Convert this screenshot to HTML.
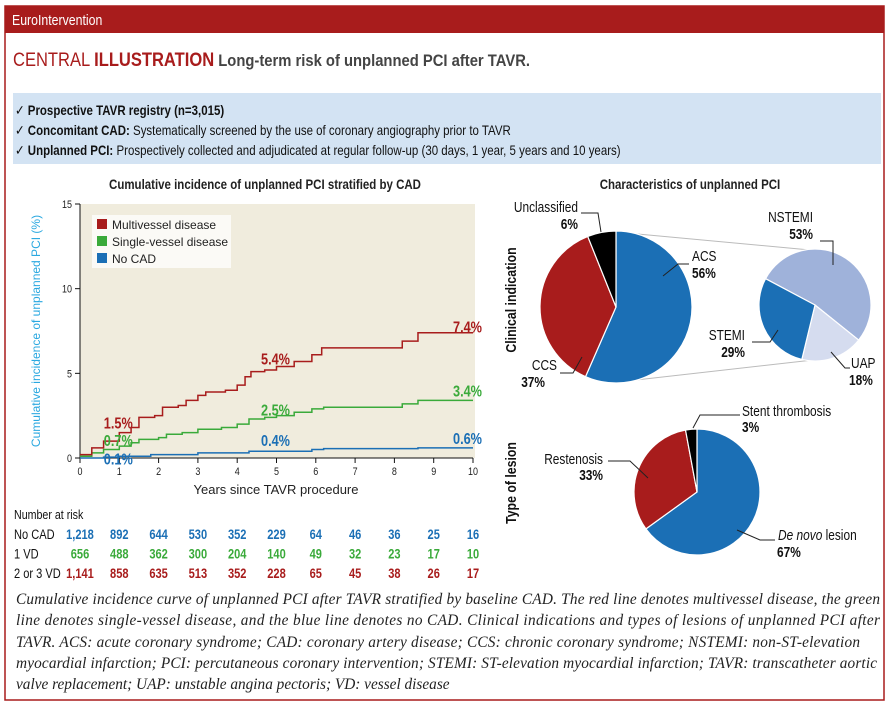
<!DOCTYPE html>
<html><head><meta charset="utf-8"><style>
body{margin:0;background:#fff;width:894px;height:708px;overflow:hidden;font-family:"Liberation Sans",sans-serif}
</style></head><body>
<svg id="root" width="894" height="708" xmlns="http://www.w3.org/2000/svg" style="font-family:'Liberation Sans',sans-serif">
<rect x="5" y="6" width="879" height="694" fill="#fff" stroke="#a81c1c" stroke-width="1.5"/>
<rect x="5" y="6" width="879" height="27" fill="#a81c1c"/>
<text class="cx" x="12" y="25" fill="#fff" font-size="15">EuroIntervention</text>
<text class="cx9" x="13" y="66" font-size="19"><tspan fill="#a81c1c">CENTRAL </tspan><tspan fill="#a81c1c" font-weight="bold">ILLUSTRATION</tspan><tspan fill="#444" font-weight="bold" font-size="17"> Long-term risk of unplanned PCI after TAVR.</tspan></text>
<rect x="13" y="93" width="868" height="71" fill="#d3e3f3"/>
<g font-size="14" fill="#111">
<text class="cx" x="15" y="115">✓ <tspan font-weight="bold">Prospective TAVR registry (n=3,015)</tspan></text>
<text class="cx" x="15" y="135">✓ <tspan font-weight="bold">Concomitant CAD:</tspan> Systematically screened by the use of coronary angiography prior to TAVR</text>
<text class="cx" x="15" y="155">✓ <tspan font-weight="bold">Unplanned PCI:</tspan> Prospectively collected and adjudicated at regular follow-up (30 days, 1 year, 5 years and 10 years)</text>
</g>
<text class="cx" x="265" y="189" text-anchor="middle" font-size="14" font-weight="bold" fill="#222">Cumulative incidence of unplanned PCI stratified by CAD</text>
<text class="cx" x="690" y="189" text-anchor="middle" font-size="14" font-weight="bold" fill="#222">Characteristics of unplanned PCI</text>
<g id="km"></g>
<g id="pies"></g>
<g font-size="15.3" font-style="italic" fill="#222" style="font-family:'Liberation Serif',serif">
<text x="16" y="604" textLength="864" lengthAdjust="spacing">Cumulative incidence curve of unplanned PCI after TAVR stratified by baseline CAD. The red line denotes multivessel disease, the green</text>
<text x="16" y="625" textLength="864" lengthAdjust="spacing">line denotes single-vessel disease, and the blue line denotes no CAD. Clinical indications and types of lesions of unplanned PCI after</text>
<text x="16" y="647" textLength="844" lengthAdjust="spacing">TAVR. ACS: acute coronary syndrome; CAD: coronary artery disease; CCS: chronic coronary syndrome; NSTEMI: non-ST-elevation</text>
<text x="16" y="668" textLength="861" lengthAdjust="spacing">myocardial infarction; PCI: percutaneous coronary intervention; STEMI: ST-elevation myocardial infarction; TAVR: transcatheter aortic</text>
<text x="16" y="689">valve replacement; UAP: unstable angina pectoris; VD: vessel disease</text>
</g>
</svg>
<script>
const NS="http://www.w3.org/2000/svg";
const yTicks=[0,5,10,15];
const xTicks=[0,1,2,3,4,5,6,7,8,9,10];
const mvX=[0,0.3,0.6,1.0,1.3,1.5,1.9,2.1,2.5,2.7,3.0,3.2,3.7,4.0,4.2,4.35,4.7,5.0,5.45,5.9,6.15,8.2,8.6,10];
const mvY=[0.2,0.6,1.0,1.5,1.8,2.4,2.5,3.0,3.1,3.4,3.7,3.9,4.0,4.3,4.8,5.1,5.2,5.4,5.7,6.1,6.5,6.9,7.4,7.4];
const svX=[0,0.3,0.6,1.0,1.3,1.5,2.0,2.2,2.6,3.0,3.6,4.0,4.3,4.7,5.0,5.45,5.9,6.2,8.2,8.6,10];
const svY=[0.1,0.3,0.5,0.7,0.9,1.1,1.2,1.4,1.5,1.7,1.8,2.0,2.3,2.4,2.5,2.7,2.9,3.0,3.2,3.4,3.4];
const ncX=[0,0.6,1.0,1.8,3.0,4.3,5.9,6.2,8.6,10];
const ncY=[0,0.05,0.1,0.2,0.3,0.4,0.5,0.55,0.6,0.6];
const annYears=[1,1,1,5,5,5,10,10,10];
const annValues=[1.5,0.7,0.1,5.4,2.5,0.4,7.4,3.4,0.6];
const riskLabels=["No CAD","1 VD","2 or 3 VD"];
const riskNoCad=["1,218","892","644","530","352","229","64","46","36","25","16"];
const risk1VD=["656","488","362","300","204","140","49","32","23","17","10"];
const risk23VD=["1,141","858","635","513","352","228","65","45","38","26","17"];
const pie1Labels=["ACS","CCS","Unclassified"];
const pie1Values=[56,37,6];
const pie2Labels=["NSTEMI","UAP","STEMI"];
const pie2Values=[53,18,29];
const pie3Labels=["De novo lesion","Restenosis","Stent thrombosis"];
const pie3Values=[67,33,3];

const X0=80,X1=473,Y0=458,Y1=204;
const sx=v=>X0+(X1-X0)*v/10, sy=v=>Y0-(Y0-Y1)*v/15;
function el(t,a,p){const e=document.createElementNS(NS,t);for(const k in a)e.setAttribute(k,a[k]);p.appendChild(e);return e;}
const km=document.getElementById('km');


el('rect',{x:X0,y:Y1,width:X1-X0+2,height:Y0-Y1,fill:'#f0ecdd'},km);
const yt=el('text',{x:0,y:0,transform:'translate(40,331) rotate(-90)','text-anchor':'middle','font-size':12,fill:'#2aa8e0'},km);
yt.textContent='Cumulative incidence of unplanned PCI (%)';


el('line',{x1:X0,y1:Y1,x2:X0,y2:Y0,stroke:'#111','stroke-width':1},km);
el('line',{x1:X0,y1:Y0,x2:X1,y2:Y0,stroke:'#111','stroke-width':1},km);
yTicks.forEach(v=>{el('line',{x1:X0-5,x2:X0,y1:sy(v),y2:sy(v),stroke:'#111'},km);
 const t=el('text',{x:X0-8,y:sy(v)+4,'text-anchor':'end','font-size':11,fill:'#222','class':'cx'},km);t.textContent=v;
 
 });
xTicks.forEach(v=>{el('line',{x1:sx(v),x2:sx(v),y1:Y0,y2:Y0+5,stroke:'#111'},km);
 const t=el('text',{x:sx(v),y:Y0+17,'text-anchor':'middle','font-size':11,fill:'#222','class':'cx'},km);t.textContent=v;
 
 });
const xt=el('text',{x:276,y:494,'text-anchor':'middle','font-size':13,fill:'#222'},km);xt.textContent='Years since TAVR procedure';


function step(xs,ys,col,name){let d='M'+sx(xs[0])+','+sy(ys[0]);for(let i=1;i<xs.length;i++){d+='H'+sx(xs[i])+'V'+sy(ys[i]);}
 const p=el('path',{d:d,fill:'none',stroke:col,'stroke-width':1.5},km);
 
 }
step(ncX,ncY,'#1b6fb5','no-cad-curve');
step(svX,svY,'#3aaa3a','single-vessel-curve');
step(mvX,mvY,'#a81c1c','multivessel-curve');
const lg=el('g',{},km);


el('rect',{x:92,y:215,width:139,height:53,fill:'#fbfaf6'},lg);
[['Multivessel disease','#a81c1c'],['Single-vessel disease','#3aaa3a'],['No CAD','#1b6fb5']].forEach((e,i)=>{
 el('rect',{x:97,y:219+i*17,width:10,height:10,fill:e[1]},lg);
 const t=el('text',{x:112,y:229+i*17,'font-size':12,fill:'#222'},lg);t.textContent=e[0];
 
 });
const annCols=['#a81c1c','#3aaa3a','#1b6fb5','#a81c1c','#3aaa3a','#1b6fb5','#a81c1c','#3aaa3a','#1b6fb5'];
const annOff=[-4,0,8,-2,0,-5,0,-4,-4];
annValues.forEach((v,i)=>{
 const yr=annYears[i];const anc=yr===10?'end':'middle';const xx=yr===10?sx(10)+9:sx(yr)-1;
 const t=el('text',{x:xx,y:sy(v)+annOff[i],'text-anchor':anc,'font-size':15.5,'font-weight':'bold',fill:annCols[i],'class':'cx'},km);
 t.textContent=v.toFixed(1)+'%';
 
 });
const rk=el('g',{},km);


let t0=el('text',{x:14,y:519,'font-size':13,fill:'#111','class':'cx'},rk);t0.textContent='Number at risk';
[[riskNoCad,'#1b6fb5'],[risk1VD,'#3aaa3a'],[risk23VD,'#a81c1c']].forEach((r,i)=>{
 const y=539+i*19.5;const l=el('text',{x:14,y:y,'font-size':13.5,fill:'#111','class':'cx'},rk);l.textContent=riskLabels[i];
 r[0].forEach((v,j)=>{const t=el('text',{x:sx(j),y:y,'text-anchor':'middle','font-size':13.5,'font-weight':'bold',fill:r[1],'class':'cx'},rk);t.textContent=v;
 
 });});
const pg=document.getElementById('pies');


function pie(cx,cy,r,vals,cols,start,name){const tot=vals.reduce((a,b)=>a+b,0);let a=start;
 vals.forEach((v,i)=>{const b=a+v/tot*360;const rad=d=>(d-90)*Math.PI/180;
 const x1=cx+r*Math.cos(rad(a)),y1=cy+r*Math.sin(rad(a)),x2=cx+r*Math.cos(rad(b)),y2=cy+r*Math.sin(rad(b));
 const p=el('path',{d:`M${cx},${cy}L${x1},${y1}A${r},${r} 0 ${b-a>180?1:0} 1 ${x2},${y2}Z`,fill:cols[i],stroke:'#fff','stroke-width':1.2},pg);
 
 a=b;});}
el('line',{x1:616,y1:232,x2:810,y2:250,stroke:'#bbb'},pg);
el('line',{x1:636,y1:380,x2:813,y2:360,stroke:'#bbb'},pg);
pie(616,307,76,pie1Values,['#1b6fb5','#a81c1c','#000'],0,'clinical-indication-pie');
pie(815,305,56,pie2Values,['#9fb2da','#d5dcef','#1b6fb5'],298,'acs-breakdown-pie');
pie(697,492,63,pie3Values,['#1b6fb5','#a81c1c','#000'],0,'lesion-type-pie');
const lines=[[[581,213,598,213,601,232]],[[663,276,678,264,689,264]],[[560,373,573,373,582,357]],[[820,241,833,241,833,265]],[[752,342,770,342,778,330]],[[850,368,845,368,831,352]],[[740,415,700,415,693,428]],[[608,461,630,461,648,478]],[[775,540,760,540,737,530]]];
lines.forEach(l=>{const p=el('polyline',{points:l[0].join(' '),fill:'none',stroke:'#222','stroke-width':1},pg);
 
 });
const labs=[['Unclassified',578,212,'end'],['6%',578,229,'end'],['ACS',692,261,'start'],['56%',692,278,'start'],['CCS',557,370,'end'],['37%',545,387,'end'],['NSTEMI',813,222,'end'],['53%',813,239,'end'],['STEMI',745,340,'end'],['29%',745,357,'end'],['UAP',851,368,'start'],['18%',849,385,'start'],['Stent thrombosis',742,416,'start'],['3%',742,432,'start'],['Restenosis',603,464,'end'],['33%',603,480,'end'],['67%',777,557,'start']];
labs.forEach(l=>{const t=el('text',{x:l[1],y:l[2],'text-anchor':l[3],'font-size':14.5,fill:'#111','font-weight':/%/.test(l[0])?'bold':'normal','class':'cx'},pg);t.textContent=l[0];
 
 });
const dn=el('text',{x:778,y:540,'font-size':14.5,fill:'#111','class':'cx'},pg);dn.innerHTML='<tspan font-style="italic">De novo</tspan> lesion';


[['Clinical indication',516,300],['Type of lesion',516,483]].forEach(l=>{const t=el('text',{x:0,y:0,transform:`translate(${l[1]},${l[2]}) rotate(-90)`,'text-anchor':'middle','font-size':15,'font-weight':'bold',fill:'#111','class':'cx'},pg);t.textContent=l[0];
 
 });
function compress(sel,f){document.querySelectorAll(sel).forEach(t=>{const w=t.getComputedTextLength();if(w>0){t.setAttribute('textLength',(w*f).toFixed(1));t.setAttribute('lengthAdjust','spacingAndGlyphs');}});}
compress('text.cx',0.82);
compress('text.cx9',0.87);
</script>
</body></html>
